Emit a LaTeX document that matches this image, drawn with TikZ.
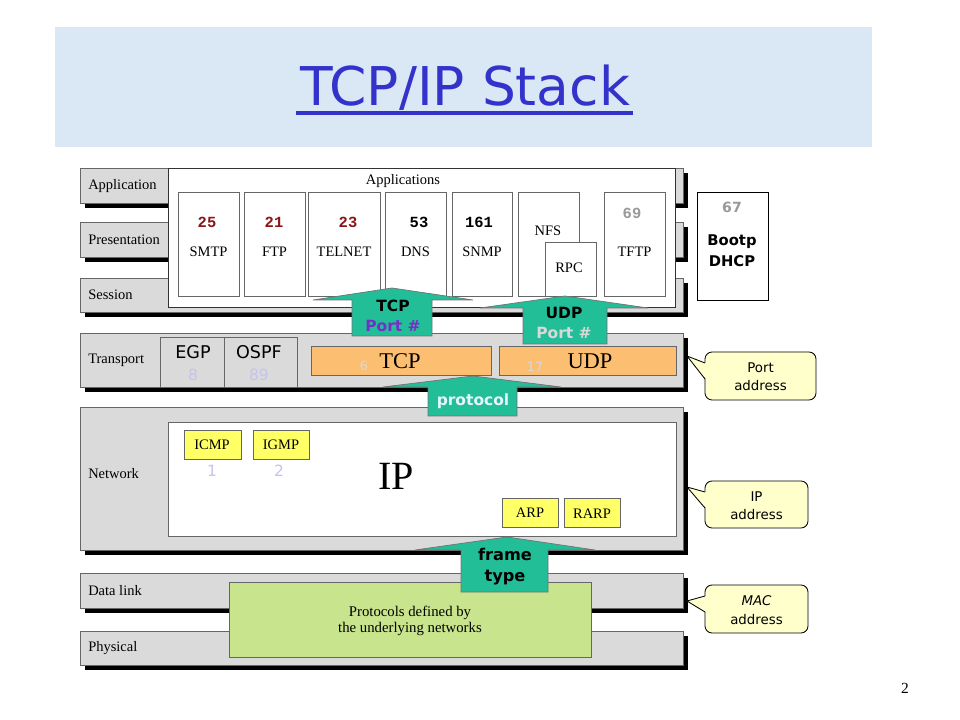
\documentclass[tikz,border=0pt]{standalone}
\usepackage{fontspec}
\setmainfont{Liberation Serif}
\newfontfamily\comic{DejaVu Sans}
\newfontfamily\mono{Liberation Mono}
\usetikzlibrary{calc}

\definecolor{titleblue}{RGB}{51,51,204}
\definecolor{titlebg}{RGB}{218,231,245}
\definecolor{layergray}{RGB}{218,218,218}
\definecolor{faintblue}{RGB}{196,196,236}
\definecolor{portred}{RGB}{140,22,22}
\definecolor{protoyellow}{RGB}{255,255,102}
\definecolor{protoorange}{RGB}{252,190,112}
\definecolor{netgreen}{RGB}{200,228,140}
\definecolor{arrowteal}{RGB}{34,190,152}
\definecolor{callfill}{RGB}{255,255,204}
\definecolor{portpurple}{RGB}{120,45,200}

\begin{document}
\begin{tikzpicture}[x=0.025cm,y=-0.025cm,
        layer/.style={fill=layergray,draw=black!60,line width=0.6pt},
        drop/.style={fill=black},
        lbl/.style={font=\fontsize{10.3}{12}\selectfont,anchor=west,inner sep=0pt},
        proto/.style={font=\fontsize{10.3}{12}\selectfont,inner sep=0pt},
        portnum/.style={font=\mono\bfseries\fontsize{11}{12}\selectfont,inner sep=0pt},
        faint/.style={font=\comic\fontsize{11}{12}\selectfont,text=faintblue,inner sep=0pt},
        appbox/.style={fill=white,draw=black!60,line width=0.5pt},
        yellowbox/.style={fill=protoyellow,draw=black!60,line width=0.6pt},
        orangebox/.style={fill=protoorange,draw=black!60,line width=0.6pt},
        blockarrow/.style={fill=arrowteal,draw=black!55,line width=0.5pt},
        arrowtext/.style={font=\comic\bfseries\fontsize{11}{12}\selectfont,inner sep=0pt},
        callout/.style={fill=callfill,draw=black,line width=0.6pt,rounded corners=5pt},
        calltext/.style={font=\comic\fontsize{9.5}{13}\selectfont,align=center,inner sep=0pt}]
    \useasboundingbox (0,0) rectangle (960,720);

    % title
    \fill[titlebg] (55,27) rectangle (872,147);
    \node[font=\comic\fontsize{38}{40}\selectfont,text=titleblue,anchor=base,inner sep=0pt]
        (title) at (465,106) {TCP/IP Stack};
    \draw[titleblue,line width=2.2pt] ($(title.base west)+(-4,7)$) -- ($(title.base east)+(3,7)$);

    % layers
    \foreach \ya/\yb/\nm/\txt/\ty in {168/203/app/Application/186, 222/257/pres/Presentation/240,
            278/312/sess/Session/295, 333/387/trans/Transport/360, 407/550/net/Network/474,
            573/608/dlink/Data link/591, 631/665/phys/Physical/648} {
        \fill[drop] (85,\ya+5) rectangle (688,\yb+5);
        \draw[layer] (80,\ya) rectangle (683,\yb);
        \node[lbl] (\nm) at (88,\ty) {\txt};
    }

    % applications
    \draw[fill=white,draw=black!80,line width=0.6pt] (168,168) rectangle (675,307);
    \node[proto] (apps) at (403,181) {Applications};
    \foreach \xa/\xb/\nm/\txt in {178/239/smtp/SMTP, 244/305/ftp/FTP, 308/380/telnet/TELNET,
            385/446/dns/DNS, 452/512/snmp/SNMP, 604/665/tftp/TFTP} {
        \draw[appbox] (\xa,192) rectangle (\xb,296);
        \node[proto] (\nm) at ({(\xa+\xb)/2},252) {\txt};
    }
    \draw[appbox] (518,192) rectangle (579,296);
    \node[proto] (nfs) at (548,231) {NFS};
    \draw[appbox] (545,242) rectangle (596,296);
    \node[proto] (rpc) at (569,268) {RPC};
    \node[portnum,text=portred] (p25) at (207,222) {25};
    \node[portnum,text=portred] (p21) at (274,222) {21};
    \node[portnum,text=portred] (p23) at (348,222) {23};
    \node[portnum] (p53) at (419,222) {53};
    \node[portnum] (p161) at (479,222) {161};
    \node[portnum,text=black!40] (p69) at (632,213) {69};

    % transport
    \draw[layer] (160,337) rectangle (224,387);
    \draw[layer] (224,337) rectangle (297,387);
    \node[font=\comic\fontsize{12.5}{14}\selectfont,inner sep=0pt] (egp) at (193,352) {EGP};
    \node[font=\comic\fontsize{12.5}{14}\selectfont,inner sep=0pt] (ospf) at (259,352) {OSPF};
    \node[faint] (n8) at (193,375) {8};
    \node[faint] (n89) at (259,375) {89};
    \draw[orangebox] (311,346) rectangle (491,375);
    \draw[orangebox] (499,346) rectangle (676,375);
    \node[font=\fontsize{16}{18}\selectfont,inner sep=0pt] (tcp) at (400,361) {TCP};
    \node[font=\fontsize{16}{18}\selectfont,inner sep=0pt] (udp) at (590,361) {UDP};
    \node[faint,font=\comic\fontsize{9}{10}\selectfont,text=black!15] (n6) at (364,366) {6};
    \node[faint,font=\comic\fontsize{9}{10}\selectfont,text=black!15] (n17) at (535,367) {17};

    % network
    \draw[appbox] (168,422) rectangle (676,536);
    \draw[yellowbox] (184,430) rectangle (241,459);
    \draw[yellowbox] (253,430) rectangle (309,459);
    \draw[yellowbox] (502,498) rectangle (558,527);
    \draw[yellowbox] (564,498) rectangle (620,527);
    \node[proto] (icmp) at (212,445) {ICMP};
    \node[proto] (igmp) at (281,445) {IGMP};
    \node[proto] (arp) at (530,513) {ARP};
    \node[proto] (rarp) at (592,514) {RARP};
    \node[faint] (n1) at (212,471) {1};
    \node[faint] (n2) at (279,471) {2};
    \node[font=\fontsize{28.5}{30}\selectfont,inner sep=0pt] (ip) at (396,476) {IP};

    % data link / physical
    \draw[fill=netgreen,draw=black!60,line width=0.6pt] (229,582) rectangle (591,657);
    \node[proto,align=center,font=\fontsize{10.5}{11}\selectfont] (under) at (410,621)
        {Protocols defined by\\the underlying networks};

    % arrows
    \draw[blockarrow] (352,336) -- (352,300) -- (313,300) -- (392,288) -- (473,300)
        -- (432,300) -- (432,336) -- cycle;
    \draw[blockarrow] (523,344) -- (523,308) -- (480,308) -- (565,296) -- (648,308)
        -- (607,308) -- (607,344) -- cycle;
    \draw[blockarrow] (428,416) -- (428,387) -- (383,387) -- (473,376) -- (561,387)
        -- (517,387) -- (517,416) -- cycle;
    \draw[blockarrow] (461,592) -- (461,550) -- (415,550) -- (507,537) -- (595,550)
        -- (548,550) -- (548,592) -- cycle;
    \node[arrowtext] (tcpa) at (393,306) {TCP};
    \node[arrowtext,text=portpurple] (tcpport) at (393,326) {Port \#};
    \node[arrowtext] (udpa) at (564,313) {UDP};
    \node[arrowtext,text=black!15] (udpport) at (564,333) {Port \#};
    \node[arrowtext,text=cyan!10] (protocol) at (473,401) {protocol};
    \node[arrowtext,align=center,font=\comic\bfseries\fontsize{11.5}{15}\selectfont]
        (frame) at (505,567) {frame\\type};

    % bootp
    \draw[fill=white,draw=black,line width=0.6pt] (697,192) rectangle (768,300);
    \node[portnum,text=black!40,font=\comic\bfseries\fontsize{10}{12}\selectfont] (p67) at (732,207) {67};
    \node[arrowtext,align=center,font=\comic\bfseries\fontsize{10.5}{15}\selectfont]
        (bootp) at (732,251) {Bootp\\DHCP};

    % callouts
    \foreach \yt/\yb/\tip/\xr/\nm/\txt in {352/400/356/816/portaddr/Port\\address,
            481/528/487/808/ipaddr/IP\\address, 585/633/601/808/macaddr/\textit{MAC}\\address} {
        \draw[callout] (705,\yt) rectangle (\xr,\yb);
        \coordinate (\nm tip) at (687,\tip);
        \fill[callfill] (706,\yt+11) -- (\nm tip) -- (706,\yt+27) -- cycle;
        \draw[line width=0.6pt] (705,\yt+11) -- (\nm tip) -- (705,\yt+27);
        \node[calltext] (\nm) at ({(705+\xr)/2},{(\yt+\yb)/2+1}) {\txt};
    }

    \node[font=\fontsize{11}{12}\selectfont,inner sep=0pt] (page) at (905,688) {2};
\end{tikzpicture}
\end{document}
